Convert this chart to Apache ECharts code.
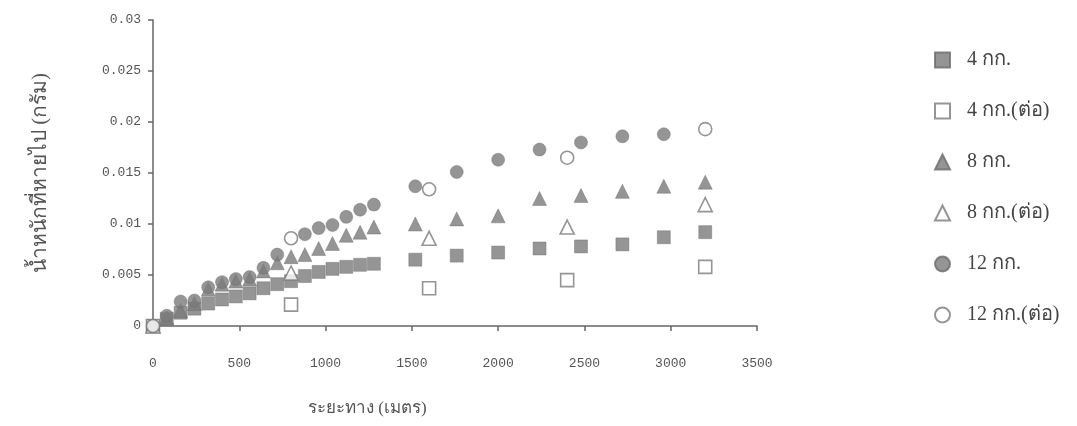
<!DOCTYPE html>
<html><head><meta charset="utf-8">
<script src="https://cdn.jsdelivr.net/npm/echarts@6/dist/echarts.min.js"></script>
<style>html,body{margin:0;padding:0;background:#fff}#c{width:1077px;height:426px}</style>
</head><body><div id="c"></div>
<script>
const xTicks = [0, 500, 1000, 1500, 2000, 2500, 3000, 3500];
const yTicks = [0, 0.005, 0.01, 0.015, 0.02, 0.025, 0.03];
const names = ['4 กก.', '4 กก.(ต่อ)', '8 กก.', '8 กก.(ต่อ)', '12 กก.', '12 กก.(ต่อ)'];

const dist = [0, 80, 160, 240, 320, 400, 480, 560, 640, 720, 800, 880, 960, 1040, 1120, 1200, 1280, 1520, 1760, 2000, 2240, 2480, 2720, 2960, 3200];
const distCont = [0, 800, 1600, 2400, 3200];

const kg4 = [0, 0.0007, 0.0013, 0.0017, 0.0022, 0.0026, 0.0029, 0.0032, 0.0037, 0.0041, 0.0044, 0.0049, 0.0053, 0.0056, 0.0058, 0.0060, 0.0061, 0.0065, 0.0069, 0.0072, 0.0076, 0.0078, 0.0080, 0.0087, 0.0092];
const kg4c = [0, 0.0021, 0.0037, 0.0045, 0.0058];
const kg8 = [0, 0.0008, 0.0015, 0.0022, 0.0036, 0.0041, 0.0044, 0.0046, 0.0054, 0.0062, 0.0068, 0.0070, 0.0076, 0.0081, 0.0089, 0.0092, 0.0097, 0.0100, 0.0105, 0.0108, 0.0125, 0.0128, 0.0132, 0.0137, 0.0141];
const kg8c = [0, 0.0052, 0.0086, 0.0097, 0.0119];
const kg12 = [0, 0.0010, 0.0024, 0.0025, 0.0038, 0.0043, 0.0046, 0.0048, 0.0057, 0.0070, null, 0.0090, 0.0096, 0.0099, 0.0107, 0.0114, 0.0119, 0.0137, 0.0151, 0.0163, 0.0173, 0.0180, 0.0186, 0.0188, null];
const kg12c = [0, 0.0086, 0.0134, 0.0165, 0.0193];

function pairs(xs, ys) { return xs.map((x, i) => [x, ys[i]]).filter(p => p[1] !== null); }

const gray = '#7a7a7a';
const filled = { color: gray, borderColor: '#6a6a6a', borderWidth: 0.5 };
const open = { color: '#ffffff', borderColor: gray, borderWidth: 1.6 };

const chart = echarts.init(document.getElementById('c'), null, { renderer: 'canvas' });
chart.setOption({
  animation: false,
  backgroundColor: '#ffffff',
  grid: { left: 153, right: 320, top: 20, bottom: 100 },
  xAxis: {
    type: 'value', min: 0, max: 3500, interval: 500,
    axisLine: { lineStyle: { color: '#666', width: 1.5 } },
    axisTick: { show: true, length: 5, lineStyle: { color: '#666', width: 1.5 } },
    splitLine: { show: false },
    axisLabel: { margin: 31, color: '#555', fontFamily: 'Liberation Mono', fontSize: 13, formatter: v => String(v) }
  },
  yAxis: {
    type: 'value', min: 0, max: 0.03, interval: 0.005,
    name: 'น้ำหนักที่หายไป (กรัม)', nameLocation: 'middle', nameGap: 102, nameRotate: 90,
    nameTextStyle: { color: '#555', fontSize: 21, fontFamily: 'serif' },
    axisLine: { show: true, lineStyle: { color: '#666', width: 1.5 } },
    axisTick: { show: true, length: 5, lineStyle: { color: '#666', width: 1.5 } },
    splitLine: { show: false },
    axisLabel: { margin: 12, color: '#555', fontFamily: 'Liberation Mono', fontSize: 13,
      formatter: v => { const t = yTicks.find(a => Math.abs(a - v) < 1e-9); return t === 0 ? '0' : String(t); } }
  },
  legend: {
    orient: 'vertical', left: 929, top: 45, itemGap: 31, itemWidth: 15, itemHeight: 15,
    data: names,
    textStyle: { color: '#444', fontSize: 20, lineHeight: 20, fontFamily: 'serif', padding: [0, 0, 0, 12] }
  },
  graphic: [{
    type: 'text', left: 308, top: 400,
    style: { text: 'ระยะทาง (เมตร)', fill: '#555', fontSize: 17, fontFamily: 'serif' }
  }],
  series: [
    { name: names[0], type: 'scatter', symbol: 'rect', symbolSize: 13, itemStyle: filled, data: pairs(dist, kg4) },
    { name: names[1], type: 'scatter', symbol: 'rect', symbolSize: 13, itemStyle: open, data: pairs(distCont, kg4c) },
    { name: names[2], type: 'scatter', symbol: 'triangle', symbolSize: 14, itemStyle: filled, data: pairs(dist, kg8) },
    { name: names[3], type: 'scatter', symbol: 'triangle', symbolSize: 14, itemStyle: open, data: pairs(distCont, kg8c) },
    { name: names[4], type: 'scatter', symbol: 'circle', symbolSize: 13, itemStyle: filled, data: pairs(dist, kg12) },
    { name: names[5], type: 'scatter', symbol: 'circle', symbolSize: 13, itemStyle: open, data: pairs(distCont, kg12c) }
  ]
});
</script></body></html>
